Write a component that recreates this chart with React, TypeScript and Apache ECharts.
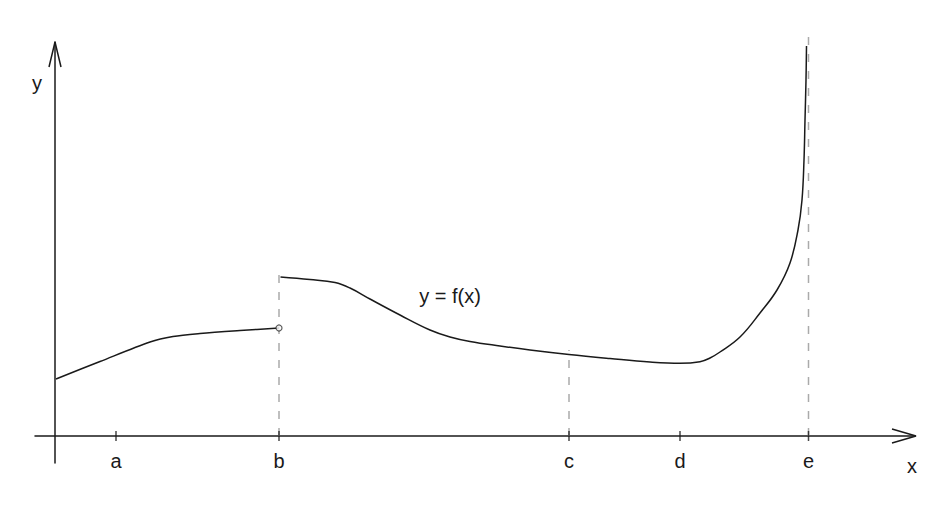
import React, { useEffect, useRef } from "react";
import * as echarts from "echarts";

// Tick positions and names along the x axis
const tickNames = ["a", "b", "c", "d", "e"];
const tickValues = [6.1, 22.4, 51.4, 62.5, 75.35];

// Left piece of f (ends at an open point at x = b)
const piece1X = [0.1, 4.5, 9.5, 11.8, 14.5, 18.5, 22.4];
const piece1Y = [5.7, 7.45, 9.4, 9.95, 10.25, 10.55, 10.8];

// Right piece of f (jumps at b, vertical asymptote at e)
const piece2X = [22.55, 25.5, 28.0, 29.5, 31.5, 34.5, 37.5, 39.5, 41.5, 44.5, 47.5, 51.4, 55.5, 59.5, 62.5, 64.5, 65.5, 66.5, 68.5, 70.5, 72.2, 73.5, 74.3, 74.7, 74.9, 75.0, 75.1, 75.15];
const piece2Y = [15.9, 15.65, 15.35, 14.8, 13.7, 12.1, 10.6, 9.9, 9.45, 9.0, 8.6, 8.15, 7.75, 7.4, 7.27, 7.43, 7.8, 8.4, 9.9, 12.3, 14.6, 17.3, 20.6, 23.6, 27.6, 31.6, 35.6, 39.0];

// Dashed guide lines: x position and top height
const guideX = [22.4, 51.4, 75.35];
const guideTop = [16.4, 8.6, 39.9];

// Open circle (hole) at the end of the left piece
const holeX = 22.4;
const holeY = 10.8;

// Axis extents
const xMin = -2;
const xMax = 86;
const yMin = -2.7;
const yMax = 39.4;

const FONT = "Liberation Sans, Arial, sans-serif";
const INK = "#1a1a1a";

export default function App() {
  const ref = useRef<HTMLDivElement>(null);

  useEffect(() => {
    if (!ref.current) return;
    const chart = echarts.init(ref.current, null, { renderer: "svg" });

    const zip = (xs: number[], ys: number[]) => xs.map((x, i) => [x, ys[i]]);

    const guideSeries = guideX.map((gx, i) => ({
      type: "line",
      data: [
        [gx, 0],
        [gx, guideTop[i]],
      ],
      showSymbol: false,
      clip: false,
      silent: true,
      z: 1,
      lineStyle: { color: "#aaaaaa", width: 1.5, type: [8, 9] },
    }));

    const option = {
      animation: false,
      backgroundColor: "#ffffff",
      grid: { left: 35, right: 21, top: 42, bottom: 49, containLabel: false },
      xAxis: {
        type: "value",
        min: xMin,
        max: xMax,
        splitLine: { show: false },
        axisLine: { show: true, onZero: true, lineStyle: { color: INK, width: 1.5 } },
        axisTick: { show: false },
        axisLabel: {
          show: true,
          customValues: tickValues,
          margin: -12,
          fontSize: 20,
          fontFamily: FONT,
          color: INK,
          formatter: (v: number) => {
            const i = tickValues.findIndex((t) => Math.abs(t - v) < 1e-6);
            return i >= 0 ? tickNames[i] : "";
          },
        },
      },
      yAxis: {
        type: "value",
        min: yMin,
        max: yMax,
        splitLine: { show: false },
        axisLine: { show: true, onZero: true, lineStyle: { color: INK, width: 1.5 } },
        axisTick: { show: false },
        axisLabel: { show: false },
      },
      series: [
        ...guideSeries,
        {
          type: "line",
          data: zip(piece1X, piece1Y),
          showSymbol: false,
          smooth: 0.3,
          clip: false,
          z: 3,
          lineStyle: { color: INK, width: 1.5 },
        },
        {
          type: "line",
          data: zip(piece2X, piece2Y),
          showSymbol: false,
          smooth: 0.4,
          clip: false,
          z: 3,
          lineStyle: { color: INK, width: 1.5 },
        },
        // x-axis arrow head (open chevron)
        {
          type: "line",
          data: [
            [xMax - 2.3, 0.7],
            [xMax + 0.1, 0],
            [xMax - 2.3, -0.7],
          ],
          showSymbol: false,
          clip: false,
          z: 4,
          lineStyle: { color: INK, width: 1.5 },
        },
        // y-axis arrow head (open chevron)
        {
          type: "line",
          data: [
            [-0.6, yMax - 2.5],
            [0, yMax],
            [0.6, yMax - 2.5],
          ],
          showSymbol: false,
          clip: false,
          z: 4,
          lineStyle: { color: INK, width: 1.5 },
        },
        // tick marks crossing the x axis
        {
          type: "scatter",
          data: tickValues.map((t) => [t, 0]),
          symbol: "rect",
          symbolSize: [1.5, 10],
          clip: false,
          z: 4,
          itemStyle: { color: INK },
        },
        // open point at x = b
        {
          type: "scatter",
          data: [[holeX, holeY]],
          symbol: "circle",
          symbolSize: 6,
          clip: false,
          z: 5,
          itemStyle: { color: "#ffffff", borderColor: "#333333", borderWidth: 1.2 },
        },
      ],
      graphic: [
        {
          type: "text",
          x: 37,
          y: 83,
          style: { text: "y", fontSize: 20, fontFamily: FONT, fill: INK, align: "center", verticalAlign: "middle" },
        },
        {
          type: "text",
          x: 912,
          y: 466,
          style: { text: "x", fontSize: 20, fontFamily: FONT, fill: INK, align: "center", verticalAlign: "middle" },
        },
        {
          type: "text",
          x: 450,
          y: 296,
          style: { text: "y = f(x)", fontSize: 20, fontFamily: FONT, fill: INK, align: "center", verticalAlign: "middle" },
        },
      ],
    };

    chart.setOption(option as any);
    return () => chart.dispose();
  }, []);

  return (
    <div
      ref={ref}
      style={{ position: "absolute", left: 0, top: 0, width: 936, height: 512, background: "#fff" }}
    />
  );
}
